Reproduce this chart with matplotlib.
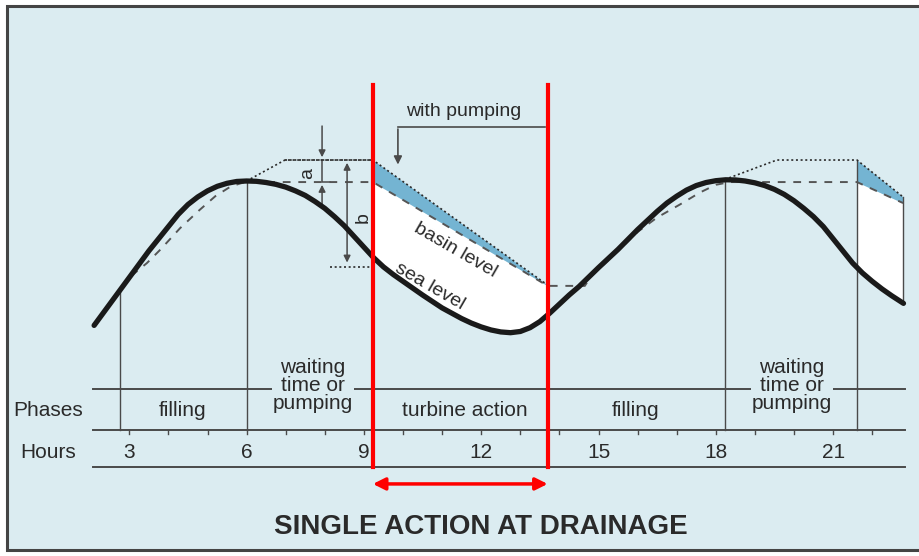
import numpy as np
import matplotlib
matplotlib.use("Agg")
import matplotlib.pyplot as plt
from matplotlib.patches import Rectangle

plt.rcParams['font.family'] = ['Liberation Sans Narrow', 'Liberation Sans', 'DejaVu Sans']

# sea level (m) against hours
sea_h = [2.1, 2.5, 3.0, 3.5, 4.0, 4.25, 4.5, 4.75, 5.0, 5.25, 5.5, 5.75, 6.0, 6.25, 6.5,
         6.75, 7.0, 7.25, 7.5, 7.75, 8.0, 8.25, 8.5, 8.75, 9.0, 9.25, 9.5, 9.75, 10.0,
         10.5, 11.0, 11.5, 11.75, 12.0, 12.25, 12.5, 12.75, 13.0, 13.25, 13.5, 13.75,
         14.0, 14.25, 14.5, 15.0, 15.5, 16.0, 16.5, 16.75, 17.0, 17.25, 17.5, 17.75,
         18.0, 18.25, 18.5, 18.75, 19.0, 19.25, 19.5, 19.75, 20.0, 20.25, 20.5, 20.75,
         21.0, 21.25, 21.5, 21.75, 22.0, 22.25, 22.5, 22.8]
sea_lvl = [0.5, 1.9, 3.65, 5.4, 7.0, 7.8, 8.45, 8.95, 9.35, 9.65, 9.85, 9.97, 10.0, 9.98, 9.9,
           9.78, 9.6, 9.35, 9.05, 8.65, 8.2, 7.65, 7.05, 6.35, 5.65, 4.95, 4.35, 3.85, 3.4,
           2.5, 1.65, 0.95, 0.65, 0.4, 0.2, 0.07, 0.02, 0.1, 0.35, 0.75, 1.3,
           1.9, 2.5, 3.05, 4.3, 5.5, 6.8, 8.0, 8.55, 9.0, 9.4, 9.7, 9.9,
           10.02, 10.08, 10.07, 10.0, 9.88, 9.7, 9.45, 9.12, 8.7, 8.2, 7.65, 7.0,
           6.2, 5.4, 4.6, 3.95, 3.4, 2.9, 2.45, 1.95]

# basin level (dashed)
basin_h = [2.1, 3.0, 3.45, 3.8, 4.3, 4.8, 5.2, 5.6, 5.96, 9.23, 13.7, 14.65, 14.8, 15.5,
           16.0, 16.5, 17.08, 17.6, 18.0, 18.36, 21.61, 22.79]
basin_lvl = [0.5, 3.65, 4.6, 5.5, 6.9, 8.1, 9.0, 9.65, 9.93, 9.93, 3.1, 3.1, 3.7, 5.4,
             6.65, 7.6, 8.45, 9.25, 9.75, 9.93, 9.93, 8.55]

# basin level with pumping (dotted)
pump1_h = [6.0, 6.98, 9.23, 13.7]
pump1_lvl = [10.0, 11.38, 11.38, 3.15]
pump2_h = [18.23, 19.56, 21.61, 22.79]
pump2_lvl = [10.1, 11.38, 11.38, 8.95]

hours = [3, 6, 9, 12, 15, 18, 21]
tick_hours = list(range(3, 23))
bounds = [2.76, 6.0, 9.23, 13.7, 18.23, 21.61]
phases = ['filling', 'waiting\ntime or\npumping', 'turbine action', 'filling',
          'waiting\ntime or\npumping']
phase_x = [4.37, 7.70, 11.59, 15.96, 19.95]

bg = '#dbecf1'
ink = '#2a2a2a'
grey = '#4a4a4a'
blue = '#74b4d2'

fig = plt.figure(figsize=(9.19, 5.56), dpi=100)
fig.patch.set_facecolor('white')
fig.add_artist(Rectangle((7 / 919, 6 / 556), 1, 544 / 556, transform=fig.transFigure,
                         facecolor=bg, edgecolor='#444444', lw=2.2, zorder=0))
ax = fig.add_axes([0, 0, 1, 1])
ax.set_xlim(-12 / 39.1, 907 / 39.1)
ax.set_ylim(-223 / 15.2, 333 / 15.2)
ax.axis('off')

# fills: white between basin and sea, blue between pumped and unpumped basin
for ph, pl in [(pump1_h, pump1_lvl), (pump2_h, pump2_lvl)]:
    xx = np.linspace(ph[-2], ph[-1], 100)
    top = np.interp(xx, ph, pl)
    mid = np.interp(xx, basin_h, basin_lvl)
    low = np.interp(xx, sea_h, sea_lvl)
    ax.fill_between(xx, low, mid, color='white', lw=0, zorder=1)
    ax.fill_between(xx, mid, top, color=blue, lw=0, zorder=1)
    ax.plot(ph, pl, ls=(0, (1.2, 1.6)), color=ink, lw=1.2, zorder=3)
    ax.plot([ph[-1]] * 2, [np.interp(ph[-1], sea_h, sea_lvl), pl[-1]], color=grey, lw=1, zorder=2)

ax.plot(basin_h, basin_lvl, ls=(0, (4, 4)), color='#555555', lw=1.4, zorder=3)
ax.plot(sea_h, sea_lvl, color='#1a1a1a', lw=3.8, solid_capstyle='round',
        solid_joinstyle='round', zorder=4)

# phase separators
tops = [np.interp(b, sea_h, sea_lvl) for b in bounds]
tops[2] = 11.38
tops[3] = 3.1
tops[5] = 11.38
for b, t in zip(bounds, tops):
    ax.plot([b, b], [-6.38, t], color=grey, lw=1, zorder=2)

# table
for yy in [-3.68, -6.38, -8.82]:
    ax.plot([2.07, 22.84], [yy, yy], color=grey, lw=1.4, zorder=2)
for t in tick_hours:
    ax.plot([t, t], [-6.38, -6.62], color=grey, lw=1, zorder=2)
for h in hours:
    ax.text(h, -7.83, str(h), ha='center', va='center', fontsize=15, color=ink)
ax.text(0.92, -5.07, 'Phases', ha='center', va='center', fontsize=15, color=ink)
ax.text(0.92, -7.83, 'Hours', ha='center', va='center', fontsize=15, color=ink)
for name, px in zip(phases, phase_x):
    if '\n' in name:
        ax.text(px, -3.45, name, ha='center', va='center', fontsize=15, color=ink,
                linespacing=0.95, zorder=3,
                bbox=dict(boxstyle='square,pad=0.05', facecolor=bg, edgecolor='none'))
    else:
        ax.text(px, -5.07, name, ha='center', va='center', fontsize=15, color=ink)

# level labels
ax.text(11.33, 5.46, 'basin level', rotation=-30, ha='center', va='center',
        fontsize=14, color=ink, zorder=5)
ax.text(10.69, 3.09, 'sea level', rotation=-30, ha='center', va='center',
        fontsize=14, color=ink, zorder=5)

# with pumping
ax.text(11.56, 14.54, 'with pumping', ha='center', va='center', fontsize=14, color=ink)
ax.plot([13.63, 9.87], [13.55, 13.55], color=grey, lw=1.2)
ax.annotate('', xy=(9.87, 10.9), xytext=(9.87, 13.6),
            arrowprops=dict(arrowstyle='-|>', color=grey, lw=1.2, mutation_scale=12))

# a and b dimensions
ax.annotate('', xy=(7.93, 11.38), xytext=(7.93, 13.8),
            arrowprops=dict(arrowstyle='-|>', color=grey, lw=1.1, mutation_scale=10))
ax.annotate('', xy=(7.93, 9.93), xytext=(7.93, 8.09),
            arrowprops=dict(arrowstyle='-|>', color=grey, lw=1.1, mutation_scale=10))
ax.plot([7.93, 7.93, 8.13], [11.38, 9.93, 9.93], color=grey, lw=1.1)
ax.text(7.57, 10.5, 'a', rotation=90, ha='center', va='center', fontsize=14, color=ink)
ax.annotate('', xy=(8.57, 11.38), xytext=(8.57, 4.45),
            arrowprops=dict(arrowstyle='<|-|>', color=grey, lw=1.1, mutation_scale=10))
ax.plot([8.13, 9.23], [4.34, 4.34], ls=(0, (1.2, 1.6)), color=ink, lw=1.2)
ax.plot([6.98, 9.23], [11.38, 11.38], ls=(0, (1.2, 1.6)), color=ink, lw=1.2)
ax.text(8.98, 7.57, 'b', rotation=90, ha='center', va='center', fontsize=14, color=ink)

# red markers for the turbine period
for b in [9.23, 13.7]:
    ax.plot([b, b], [-8.82, 16.3], color='#ff0000', lw=3, zorder=6)
ax.annotate('', xy=(13.7, -9.93), xytext=(9.23, -9.93),
            arrowprops=dict(arrowstyle='<|-|>', color='#ff0000', lw=2.5, mutation_scale=18,
                            shrinkA=0, shrinkB=0),
            zorder=6)

ax.text(12.0, -12.76, 'SINGLE ACTION AT DRAINAGE', ha='center', va='center',
        fontsize=20, fontweight='bold', color=ink)

fig.savefig('out.png', dpi=100, facecolor=fig.get_facecolor())
